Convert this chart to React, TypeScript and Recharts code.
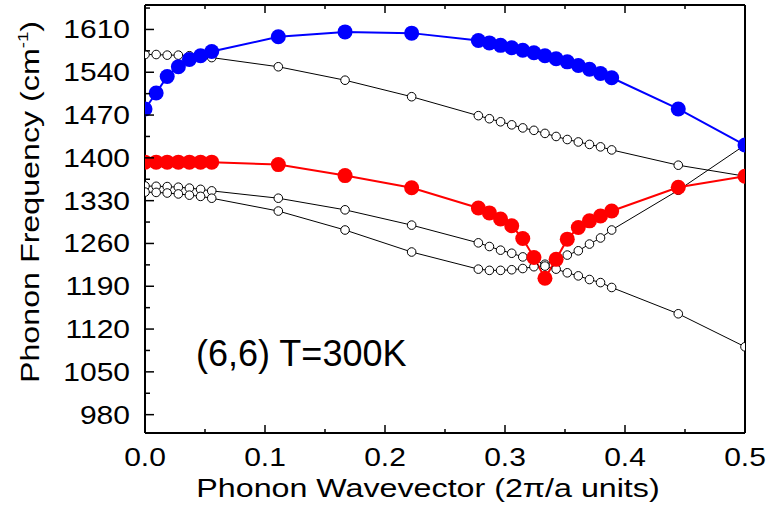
import { Label, Line, LineChart, XAxis, YAxis } from "recharts";

// wavevector in units of 2pi/a
const wavevector = [
  0, 0.0093, 0.0185, 0.0278, 0.037, 0.0463, 0.0556, 0.1111, 0.1667, 0.2222, 0.2778, 0.287, 0.2963,
  0.3056, 0.3148, 0.3241, 0.3333, 0.3426, 0.3519, 0.3611, 0.3704, 0.3796, 0.3889, 0.4444, 0.5,
];

// filled modes
const blueMode = [
  1480, 1506, 1533, 1549, 1561, 1567, 1574, 1598, 1606, 1604, 1592, 1588, 1584, 1580, 1576, 1572,
  1567, 1562, 1557, 1551, 1545, 1538, 1531, 1480, 1421,
];
const redMode = [
  1393, 1393, 1393, 1393, 1393, 1393, 1393, 1389, 1371, 1351, 1318, 1310, 1300, 1289, 1268, 1237,
  1203, 1234, 1267, 1286, 1297, 1305, 1313, 1352, 1370,
];

// open-circle modes
const upperOpen = [
  1569, 1569, 1568, 1568, 1567, 1566, 1564, 1549, 1527, 1500, 1469, 1464, 1459, 1454, 1449, 1445,
  1440, 1435, 1430, 1426, 1422, 1418, 1413, 1388, 1370,
];
const middleOpen = [
  1354, 1353.5, 1353, 1352, 1350.5, 1348.5, 1346, 1334, 1315, 1290, 1261, 1255, 1249, 1244, 1238,
  1233, 1226, 1233, 1241, 1248, 1259, 1269, 1282, 1347, 1421,
];
const lowerOpen = [
  1344, 1343.5, 1342.5, 1341, 1339, 1337, 1334, 1313, 1282, 1246, 1218, 1216, 1216, 1217, 1219,
  1222, 1223, 1218, 1212, 1207, 1201, 1196, 1188, 1145, 1091,
];

const xMajor = [0, 0.1, 0.2, 0.3, 0.4, 0.5];
const xMinor = [0.05, 0.15, 0.25, 0.35, 0.45];
const yMajor = [980, 1050, 1120, 1190, 1260, 1330, 1400, 1470, 1540, 1610];
const yMinor = [1015, 1085, 1155, 1225, 1295, 1365, 1435, 1505, 1575, 1645];

const data = wavevector.map((q, i) => ({
  q,
  blue: blueMode[i],
  red: redMode[i],
  upper: upperOpen[i],
  middle: middleOpen[i],
  lower: lowerOpen[i],
}));

const xTicks = [...xMajor, ...xMinor].sort((a, b) => a - b);
const yTicks = [...yMajor, ...yMinor].sort((a, b) => a - b);

const font = "'Liberation Sans', Arial, Helvetica, sans-serif";
const stretch = 1.2;
const titleStretch = 1.24;
const near = (list: number[], v: number) => list.some((m) => Math.abs(m - v) < 1e-6);

function BottomTick({ x, y, payload }: any) {
  const major = near(xMajor, payload.value);
  return (
    <g>
      <line x1={x} y1={y} x2={x} y2={y - (major ? 8 : 4)} stroke="#000" strokeWidth={1.5} />
      {major && (
        <text
          transform={`translate(${x},${y + 33}) scale(${stretch},1)`}
          textAnchor="middle"
          fontSize={25}
          fontFamily={font}
          fill="#000"
        >
          {payload.value.toFixed(1)}
        </text>
      )}
    </g>
  );
}

function TopTick({ x, y, payload }: any) {
  const major = near(xMajor, payload.value);
  return <line x1={x} y1={y} x2={x} y2={y + (major ? 8 : 4)} stroke="#000" strokeWidth={1.5} />;
}

function LeftTick({ x, y, payload }: any) {
  const major = near(yMajor, payload.value);
  return (
    <g>
      <line x1={x} y1={y} x2={x + (major ? 9 : 5)} y2={y} stroke="#000" strokeWidth={1.5} />
      {major && (
        <text
          transform={`translate(${x - 15},${y}) scale(${stretch},1)`}
          dy="0.36em"
          textAnchor="end"
          fontSize={25}
          fontFamily={font}
          fill="#000"
        >
          {payload.value}
        </text>
      )}
    </g>
  );
}

function RightTick({ x, y, payload }: any) {
  const major = near(yMajor, payload.value);
  return <line x1={x} y1={y} x2={x - (major ? 9 : 5)} y2={y} stroke="#000" strokeWidth={1.5} />;
}

const openDot = { r: 4.3, fill: "#fff", stroke: "#000", strokeWidth: 1 };

export default function App() {
  return (
    <div style={{ position: "absolute", left: 0, top: 0, width: 769, height: 519, background: "#fff" }}>
      <LineChart width={769} height={519} data={data} margin={{ top: 0, right: 20, bottom: 46, left: 85 }}>
        <XAxis
          xAxisId="b"
          dataKey="q"
          type="number"
          domain={[0, 0.5]}
          ticks={xTicks}
          interval={0}
          allowDataOverflow
          height={40}
          tickSize={0}
          tickMargin={0}
          tickLine={false}
          axisLine={{ stroke: "#000", strokeWidth: 2 }}
          tick={<BottomTick />}
        >
          <Label
            content={({ viewBox }: any) => (
              <text
                transform={`translate(${viewBox.x + viewBox.width / 2 - 17},${viewBox.y + 64}) scale(${titleStretch},1)`}
                textAnchor="middle"
                fontSize={26}
                fontFamily={font}
                fill="#000"
              >
                Phonon Wavevector (2π/a units)
              </text>
            )}
          />
        </XAxis>
        <XAxis
          xAxisId="t"
          orientation="top"
          dataKey="q"
          type="number"
          domain={[0, 0.5]}
          ticks={xTicks}
          interval={0}
          height={5}
          tickSize={0}
          tickMargin={0}
          tickLine={false}
          axisLine={{ stroke: "#000", strokeWidth: 2 }}
          tick={<TopTick />}
        />
        <YAxis
          yAxisId="l"
          type="number"
          domain={[950, 1650]}
          ticks={yTicks}
          interval={0}
          allowDataOverflow
          width={60}
          tickSize={0}
          tickMargin={0}
          tickLine={false}
          axisLine={{ stroke: "#000", strokeWidth: 2 }}
          tick={<LeftTick />}
        >
          <Label
            content={({ viewBox }: any) => (
              <text
                transform={`translate(39,${viewBox.y + viewBox.height / 2 - 17}) rotate(-90) scale(${titleStretch},1)`}
                textAnchor="middle"
                fontSize={26}
                fontFamily={font}
                fill="#000"
              >
                Phonon Frequency (cm
                <tspan fontSize={15} dy={-11}>-1</tspan>
                <tspan dy={11}>)</tspan>
              </text>
            )}
          />
        </YAxis>
        <YAxis
          yAxisId="r"
          orientation="right"
          type="number"
          domain={[950, 1650]}
          ticks={yTicks}
          interval={0}
          width={4}
          tickSize={0}
          tickMargin={0}
          tickLine={false}
          axisLine={{ stroke: "#000", strokeWidth: 2 }}
          tick={<RightTick />}
        />
        <Line xAxisId="b" yAxisId="l" type="linear" dataKey="upper" stroke="#000" strokeWidth={1} dot={openDot} activeDot={false} isAnimationActive={false} />
        <Line xAxisId="b" yAxisId="l" type="linear" dataKey="middle" stroke="#000" strokeWidth={1} dot={openDot} activeDot={false} isAnimationActive={false} />
        <Line xAxisId="b" yAxisId="l" type="linear" dataKey="lower" stroke="#000" strokeWidth={1} dot={openDot} activeDot={false} isAnimationActive={false} />
        <Line
          xAxisId="b"
          yAxisId="l"
          type="linear"
          dataKey="red"
          stroke="#ff0000"
          strokeWidth={2}
          dot={{ r: 7.5, fill: "#ff0000", stroke: "none" }}
          activeDot={false}
          isAnimationActive={false}
        />
        <Line
          xAxisId="b"
          yAxisId="l"
          type="linear"
          dataKey="blue"
          stroke="#0000ff"
          strokeWidth={2}
          dot={{ r: 7.5, fill: "#0000ff", stroke: "none" }}
          activeDot={false}
          isAnimationActive={false}
        />
      </LineChart>
      <svg width={769} height={519} style={{ position: "absolute", left: 0, top: 0, pointerEvents: "none" }}>
        <text x={196} y={366} fontSize={36} fontFamily={font} fill="#000">
          (6,6) T=300K
        </text>
      </svg>
    </div>
  );
}
